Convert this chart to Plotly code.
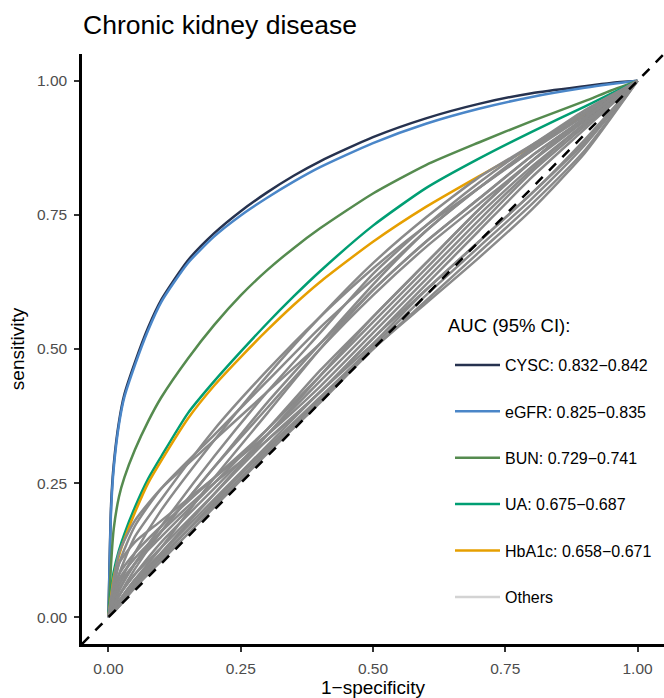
import plotly.graph_objects as go

# ---------------- data ----------------
fpr = [0, 0.005, 0.01, 0.02, 0.03, 0.05, 0.075, 0.1, 0.15, 0.2, 0.25, 0.3,
       0.35, 0.4, 0.5, 0.6, 0.7, 0.8, 0.9, 0.95, 1.0]

cysc = [0, 0.21, 0.285, 0.365, 0.415, 0.475, 0.54, 0.592, 0.665, 0.716, 0.757, 0.792,
        0.823, 0.85, 0.895, 0.93, 0.957, 0.977, 0.99, 0.996, 1.0]
egfr = [0, 0.20, 0.278, 0.36, 0.41, 0.47, 0.535, 0.588, 0.66, 0.71, 0.749, 0.782,
        0.812, 0.839, 0.884, 0.92, 0.948, 0.97, 0.987, 0.994, 1.0]
bun = [0, 0.10, 0.165, 0.225, 0.26, 0.312, 0.365, 0.41, 0.482, 0.545, 0.60, 0.647,
       0.688, 0.725, 0.79, 0.843, 0.885, 0.925, 0.962, 0.982, 1.0]
ua = [0, 0.05, 0.085, 0.125, 0.155, 0.205, 0.258, 0.30, 0.38, 0.44, 0.495, 0.548,
      0.598, 0.645, 0.73, 0.80, 0.855, 0.905, 0.952, 0.976, 1.0]
hba1c = [0, 0.04, 0.075, 0.115, 0.145, 0.195, 0.25, 0.292, 0.37, 0.432, 0.485, 0.535,
         0.582, 0.625, 0.70, 0.765, 0.822, 0.877, 0.937, 0.968, 1.0]

named_labels = ["CYSC: 0.832\u22120.842", "eGFR: 0.825\u22120.835", "BUN: 0.729\u22120.741",
                "UA: 0.675\u22120.687", "HbA1c: 0.658\u22120.671"]
named_colors = ["#26324f", "#4a86c8", "#558b4f", "#009e73", "#e69f00"]
others_label = "Others"
legend_title = "AUC (95% CI):"

# "Others" curves (grey)
fpr_o = [0, 0.02, 0.05, 0.1, 0.2, 0.3, 0.4, 0.5, 0.6, 0.7, 0.8, 0.9, 1.0]
others = [
    [0, 0.08, 0.15, 0.22, 0.35, 0.46, 0.56, 0.65, 0.73, 0.80, 0.87, 0.94, 1],
    [0, 0.06, 0.12, 0.20, 0.33, 0.45, 0.56, 0.66, 0.745, 0.82, 0.88, 0.945, 1],
    [0, 0.10, 0.17, 0.24, 0.34, 0.44, 0.54, 0.63, 0.72, 0.80, 0.87, 0.935, 1],
    [0, 0.05, 0.10, 0.17, 0.30, 0.42, 0.53, 0.64, 0.73, 0.81, 0.88, 0.94, 1],
    [0, 0.12, 0.18, 0.24, 0.33, 0.42, 0.51, 0.61, 0.70, 0.78, 0.86, 0.93, 1],
    [0, 0.04, 0.09, 0.16, 0.28, 0.40, 0.51, 0.62, 0.72, 0.80, 0.875, 0.94, 1],
    [0, 0.05, 0.10, 0.16, 0.28, 0.39, 0.50, 0.60, 0.69, 0.77, 0.85, 0.925, 1],
    [0, 0.08, 0.12, 0.17, 0.26, 0.35, 0.45, 0.55, 0.65, 0.75, 0.84, 0.92, 1],
    [0, 0.03, 0.07, 0.13, 0.26, 0.38, 0.50, 0.61, 0.70, 0.78, 0.86, 0.93, 1],
    [0, 0.10, 0.14, 0.18, 0.26, 0.34, 0.43, 0.53, 0.63, 0.73, 0.83, 0.915, 1],
    [0, 0.04, 0.08, 0.14, 0.24, 0.34, 0.44, 0.54, 0.64, 0.74, 0.835, 0.92, 1],
    [0, 0.06, 0.10, 0.15, 0.25, 0.35, 0.46, 0.56, 0.66, 0.76, 0.85, 0.93, 1],
    [0, 0.02, 0.06, 0.12, 0.23, 0.34, 0.45, 0.56, 0.66, 0.76, 0.85, 0.93, 1],
    [0, 0.07, 0.11, 0.16, 0.25, 0.33, 0.42, 0.52, 0.62, 0.72, 0.82, 0.91, 1],
    [0, 0.04, 0.08, 0.13, 0.23, 0.33, 0.42, 0.52, 0.61, 0.70, 0.79, 0.89, 1],
    [0, 0.03, 0.07, 0.12, 0.22, 0.32, 0.42, 0.51, 0.61, 0.70, 0.79, 0.885, 1],
    [0, 0.025, 0.06, 0.11, 0.215, 0.315, 0.41, 0.505, 0.60, 0.69, 0.78, 0.88, 1],
    [0, 0.03, 0.065, 0.115, 0.21, 0.31, 0.405, 0.50, 0.59, 0.68, 0.77, 0.87, 1],
    [0, 0.02, 0.055, 0.105, 0.205, 0.305, 0.40, 0.50, 0.585, 0.67, 0.76, 0.865, 1],
]

ref_line = [-0.05, 1.05]
ticks = [0, 0.25, 0.5, 0.75, 1.0]
tick_text = ["0.00", "0.25", "0.50", "0.75", "1.00"]

# ---------------- figure ----------------
FONT = "Liberation Sans, Arial, Helvetica, sans-serif"
fig = go.Figure()

named = [cysc, egfr, bun, ua, hba1c]
for i, (vals, lab, col) in enumerate(zip(named, named_labels, named_colors)):
    fig.add_trace(go.Scatter(x=fpr, y=vals, mode="lines", name=lab,
                             line=dict(color=col, width=2.5, shape="spline", smoothing=0.6),
                             legendgroup=f"g{i}", legendrank=i + 1,
                             hoverinfo="skip"))

for vals in others:
    fig.add_trace(go.Scatter(x=fpr_o, y=vals, mode="lines", showlegend=False,
                             line=dict(color="#8a8a8a", width=2.5, shape="spline", smoothing=0.6),
                             legendgroup="grey", hoverinfo="skip"))

fig.add_trace(go.Scatter(x=[None], y=[None], mode="lines", name=others_label,
                         line=dict(color="#d3d3d3", width=2.5),
                         legendgroup="g5", legendrank=6))

fig.add_trace(go.Scatter(x=ref_line, y=ref_line, mode="lines", showlegend=False,
                         line=dict(color="black", width=2.5, dash="10px,9px"),
                         legendgroup="ref", hoverinfo="skip"))

axis_common = dict(
    showgrid=False, zeroline=False, showline=True, linecolor="black", linewidth=2.5,
    ticks="outside", ticklen=5, tickwidth=2, tickcolor="#333333",
    tickvals=ticks, ticktext=tick_text,
    tickfont=dict(family=FONT, size=15.5, color="#4d4d4d"),
    range=[-0.05, 1.05], mirror=False,
)

fig.update_layout(
    width=664, height=698,
    margin=dict(l=82, r=0, t=54, b=54),
    paper_bgcolor="white", plot_bgcolor="white",
    font=dict(family=FONT, color="black"),
    title=dict(text="Chronic kidney disease", x=83 / 664, xanchor="left",
               xref="container", yref="container", y=1 - 25 / 698, yanchor="middle",
               font=dict(size=26.5, family=FONT, color="black")),
    xaxis=dict(axis_common, title=dict(text="1\u2212specificity", standoff=6,
                                       font=dict(size=19, family=FONT, color="black")),
               ticklabelstandoff=4),
    yaxis=dict(axis_common, title=dict(text="sensitivity", standoff=8,
                                       font=dict(size=19, family=FONT, color="black")),
               ticklabelstandoff=4),
    legend=dict(x=(450 - 82) / 582, xanchor="left", y=(644 - 348) / 590, yanchor="top",
                font=dict(size=16, family=FONT, color="black"),
                itemwidth=45, tracegroupgap=22.6,
                bgcolor="rgba(0,0,0,0)", traceorder="grouped"),
    annotations=[dict(text=legend_title, xref="paper", yref="paper",
                      x=(446 - 82) / 582, y=(644 - 326) / 590, xanchor="left",
                      yanchor="middle", showarrow=False,
                      font=dict(size=18.5, family=FONT, color="black"))],
    showlegend=True,
)

fig.write_html("out.html")
